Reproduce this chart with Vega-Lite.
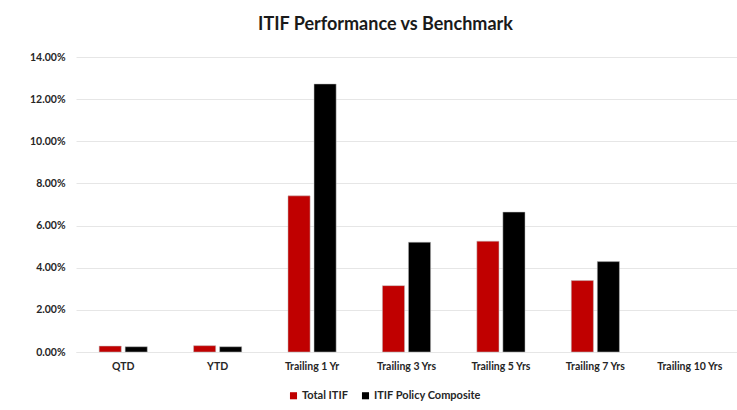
{
  "$schema": "https://vega.github.io/schema/vega-lite/v6.json",
  "autosize": "none",
  "width": 661,
  "height": 295,
  "padding": {"left": 76, "top": 57, "right": 0, "bottom": 58},
  "background": "white",
  "title": {
    "text": "ITIF Performance vs Benchmark",
    "anchor": "middle",
    "dx": -21,
    "fontSize": 18,
    "font": "Lato",
    "fontWeight": "bold",
    "color": "#1a1a1a",
    "offset": 18
  },
  "data": {
    "values": [
      {"period": "QTD", "series": "Total ITIF", "value": 0.0028},
      {"period": "QTD", "series": "ITIF Policy Composite", "value": 0.0025},
      {"period": "YTD", "series": "Total ITIF", "value": 0.0030},
      {"period": "YTD", "series": "ITIF Policy Composite", "value": 0.0025},
      {"period": "Trailing 1 Yr", "series": "Total ITIF", "value": 0.0741},
      {"period": "Trailing 1 Yr", "series": "ITIF Policy Composite", "value": 0.1272},
      {"period": "Trailing 3 Yrs", "series": "Total ITIF", "value": 0.0315},
      {"period": "Trailing 3 Yrs", "series": "ITIF Policy Composite", "value": 0.0521},
      {"period": "Trailing 5 Yrs", "series": "Total ITIF", "value": 0.0526},
      {"period": "Trailing 5 Yrs", "series": "ITIF Policy Composite", "value": 0.0664},
      {"period": "Trailing 7 Yrs", "series": "Total ITIF", "value": 0.0339},
      {"period": "Trailing 7 Yrs", "series": "ITIF Policy Composite", "value": 0.0429}
    ]
  },
  "mark": {"type": "bar", "stroke": "#bfbfbf", "strokeWidth": 0.5},
  "encoding": {
    "x": {
      "field": "period",
      "type": "nominal",
      "sort": null,
      "scale": {
        "domain": ["QTD", "YTD", "Trailing 1 Yr", "Trailing 3 Yrs", "Trailing 5 Yrs", "Trailing 7 Yrs", "Trailing 10 Yrs"],
        "paddingInner": 0.49,
        "paddingOuter": 0.245
      },
      "axis": {
        "title": null,
        "labelAngle": 0,
        "ticks": false,
        "domain": true,
        "domainColor": "#e6e6e6",
        "labelFont": "Lato",
        "labelFontWeight": "bold",
        "labelFontSize": 10.5,
        "labelColor": "#262626",
        "labelPadding": 9
      }
    },
    "xOffset": {
      "field": "series",
      "type": "nominal",
      "sort": ["Total ITIF", "ITIF Policy Composite"],
      "scale": {"paddingInner": 0.15}
    },
    "y": {
      "field": "value",
      "type": "quantitative",
      "scale": {"domain": [0, 0.14], "nice": false},
      "axis": {
        "title": null,
        "format": ".2%",
        "values": [0, 0.02, 0.04, 0.06, 0.08, 0.1, 0.12, 0.14],
        "ticks": false,
        "domain": false,
        "grid": true,
        "gridColor": "#e6e6e6",
        "labelFont": "Lato",
        "labelFontWeight": "bold",
        "labelFontSize": 10.5,
        "labelColor": "#262626",
        "labelPadding": 11
      }
    },
    "color": {
      "field": "series",
      "type": "nominal",
      "sort": ["Total ITIF", "ITIF Policy Composite"],
      "scale": {"domain": ["Total ITIF", "ITIF Policy Composite"], "range": ["#C00000", "#000000"]},
      "legend": {
        "title": null,
        "orient": "none",
        "legendX": 212,
        "legendY": 333,
        "direction": "horizontal",
        "symbolType": "square",
        "symbolSize": 50,
        "symbolStrokeWidth": 0,
        "labelFont": "Lato",
        "labelFontWeight": "bold",
        "labelFontSize": 11,
        "labelColor": "#262626",
        "labelOffset": 3,
        "columnPadding": 12
      }
    }
  },
  "config": {
    "view": {"stroke": null}
  }
}
